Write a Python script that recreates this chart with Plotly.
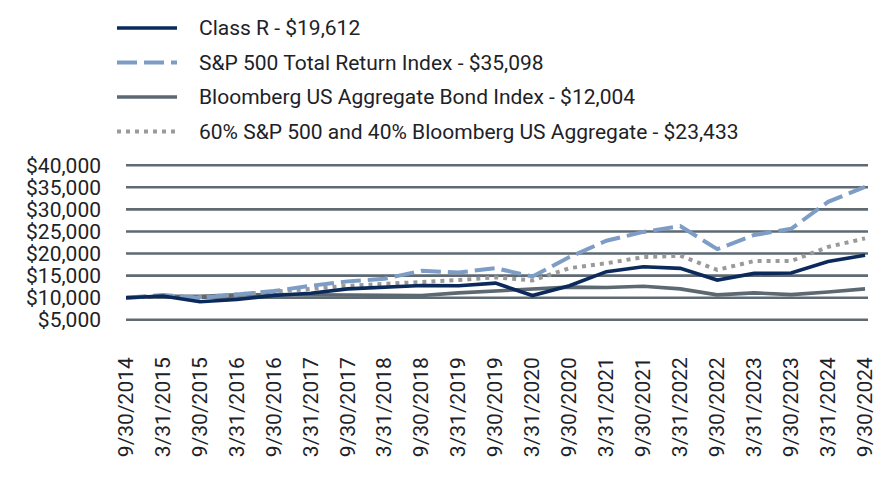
import plotly.graph_objects as go

dates = ["9/30/2014", "3/31/2015", "9/30/2015", "3/31/2016", "9/30/2016", "3/31/2017",
         "9/30/2017", "3/31/2018", "9/30/2018", "3/31/2019", "9/30/2019", "3/31/2020",
         "9/30/2020", "3/31/2021", "9/30/2021", "3/31/2022", "9/30/2022", "3/31/2023",
         "9/30/2023", "3/31/2024", "9/30/2024"]

class_r = [10000, 10400, 9100, 9600, 10500, 11000, 12000, 12300, 12750, 12700, 13300,
           10500, 12700, 15900, 17000, 16650, 14000, 15500, 15600, 18200, 19612]
sp500 = [10000, 10600, 9950, 10800, 11500, 12700, 13700, 14300, 16100, 15700, 16700,
         14800, 19200, 22900, 24900, 26200, 21000, 24200, 25600, 31700, 35098]
agg = [10000, 10300, 10300, 10650, 10700, 10600, 10600, 10500, 10500, 11100, 11600,
       12000, 12400, 12300, 12600, 12000, 10650, 11100, 10700, 11300, 12004]
blend = [10000, 10400, 10100, 10700, 11200, 12000, 12700, 13100, 13650, 14000, 14600,
         13900, 16700, 17800, 19200, 19500, 16300, 18300, 18300, 21500, 23433]

names = ["Class R - $19,612", "S&P 500 Total Return Index - $35,098",
         "Bloomberg US Aggregate Bond Index - $12,004",
         "60% S&P 500 and 40% Bloomberg US Aggregate - $23,433"]

y_ticks = [5000, 10000, 15000, 20000, 25000, 30000, 35000, 40000]
y_labels = ["$5,000", "$10,000", "$15,000", "$20,000", "$25,000", "$30,000", "$35,000", "$40,000"]

series = [
    (class_r, names[0], dict(color="#0b2a5b", width=3.6, dash="solid")),
    (sp500, names[1], dict(color="#7d9cc6", width=4, dash="20px,7px")),
    (agg, names[2], dict(color="#5d6972", width=3.6, dash="solid")),
    (blend, names[3], dict(color="#9a9a9a", width=4, dash="4px,5px")),
]

fig = go.Figure()
for idx in [2, 3, 1, 0]:
    vals, nm, ln = series[idx]
    fig.add_trace(go.Scatter(x=dates, y=vals, name=nm, mode="lines", line=ln,
                             showlegend=False, hoverinfo="skip"))

# horizontal grid lines at the y tick values
for v in y_ticks:
    fig.add_shape(type="line", xref="paper", yref="y", x0=0, x1=1, y0=v, y1=v,
                  layer="below", line=dict(color="#5f6a73", width=2.6))

# manual legend (paper coords relative to plot area)
L, R, T, B = 126, 868, 163, 322
W, H = R - L, B - T
def px(x):
    return (x - L) / W
def py(y):
    return (B - y) / H

row_y = [28, 62.5, 97, 131.5]
for i, (vals, nm, ln) in enumerate(series):
    fig.add_shape(type="line", xref="paper", yref="paper",
                  x0=px(117), x1=px(177), y0=py(row_y[i]), y1=py(row_y[i]),
                  line=dict(color=ln["color"], width=ln["width"], dash=ln["dash"]))
    fig.add_annotation(xref="paper", yref="paper", x=px(197), y=py(row_y[i]),
                       xanchor="left", yanchor="middle", text=nm, showarrow=False,
                       font=dict(size=21, color="#1d2228"))

fig.update_layout(
    width=888, height=480,
    margin=dict(l=L, r=888 - R, t=T, b=480 - B, autoexpand=False),
    paper_bgcolor="white", plot_bgcolor="white",
    font=dict(family="Roboto, Arial, sans-serif", size=21, color="#1d2228"),
    showlegend=False,
    hovermode=False,
    xaxis=dict(type="category", range=[0, 20.08], showgrid=False, zeroline=False,
               showline=False, tickangle=-90, ticks="", ticklabelstandoff=30,
               tickfont=dict(size=21)),
    yaxis=dict(range=[4500, 40500], tickvals=y_ticks, ticktext=y_labels,
               showgrid=False, zeroline=False,
               showline=False, ticks="", ticklabelstandoff=24, tickfont=dict(size=21)),
)

fig.write_html("out.html", config={"displayModeBar": False},
               post_script="document.body.style.margin='0px';")
